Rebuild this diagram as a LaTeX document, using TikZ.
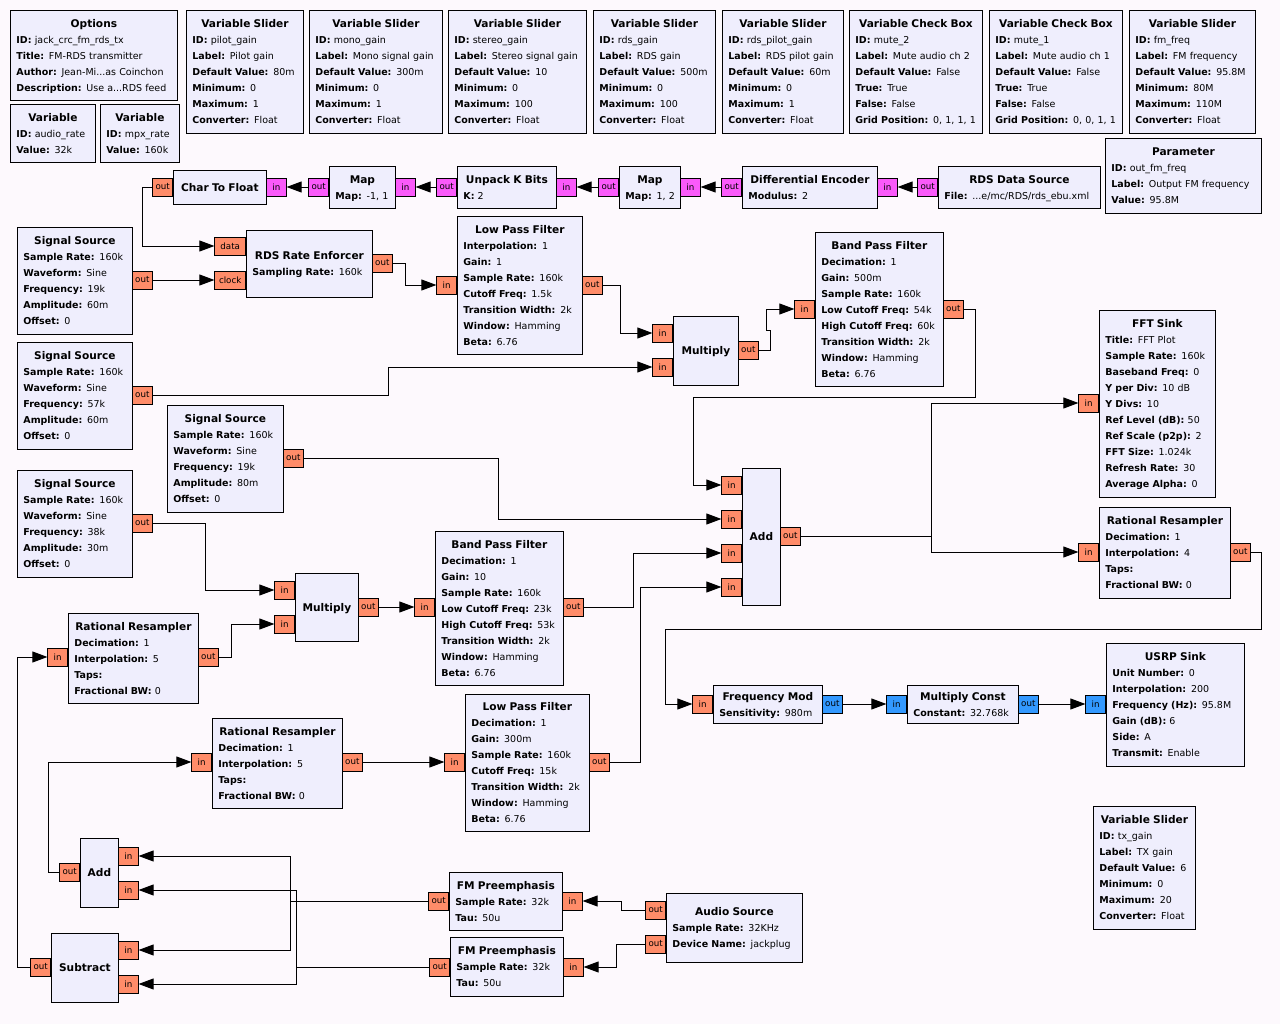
\documentclass[tikz,border=0pt]{standalone}
\usepackage{fontspec}
\setmainfont{DejaVu Sans}
\usetikzlibrary{arrows.meta}
\setlength{\parindent}{0pt}
\definecolor{bgc}{RGB}{253,249,253}
\definecolor{blockc}{RGB}{239,238,253}
\definecolor{floatc}{RGB}{255,140,105}
\definecolor{bytec}{RGB}{250,90,250}
\definecolor{cplxc}{RGB}{51,153,255}
\newcommand{\sst}{\rule[-2.3pt]{0pt}{12pt}}
\newcommand{\ttl}[1]{\hbox to\hsize{\hss\fontsize{10.6}{16}\selectfont\bfseries #1\hss}\sst}
\newcommand{\kv}[2]{\mbox{\textbf{#1:} #2}\sst}
\tikzset{
  blk/.style={draw, line width=0.8pt, fill=blockc, anchor=north west, inner xsep=6pt, inner ysep=0pt, align=left, font=\fontsize{9.5}{16}\selectfont},
  port/.style={draw, line width=0.6pt, inner xsep=1.5pt, inner ysep=0pt, minimum width=20pt, minimum height=18pt, font=\fontsize{8.7}{9}\selectfont},
  fp/.style={port, fill=floatc}, bp/.style={port, fill=bytec}, cp/.style={port, fill=cplxc},
  wire/.style={draw, line width=0.9pt, -{Triangle[length=15pt,width=11pt]}}
}
\begin{document}
\begin{tikzpicture}[x=1pt,y=-1pt]
\fill[bgc] (0,0) rectangle (1280,1024);
\useasboundingbox (0,0) rectangle (1280,1024);
% variables and options
\node[blk,text width=155pt,minimum height=90pt] (opt) at (10,10) {\ttl{Options}\\ \kv{ID}{jack\_crc\_fm\_rds\_tx}\\ \kv{Title}{FM-RDS transmitter}\\ \kv{Author}{Jean-Mi...as Coinchon}\\ \kv{Description}{Use a...RDS feed}};
\node[blk,text width=73pt,minimum height=58pt] (var1) at (10,104) {\ttl{Variable}\\ \kv{ID}{audio\_rate}\\ \kv{Value}{32k}};
\node[blk,text width=67pt,minimum height=58pt] (var2) at (100,104) {\ttl{Variable}\\ \kv{ID}{mpx\_rate}\\ \kv{Value}{160k}};
\node[blk,text width=105pt,minimum height=123pt] (vs1) at (186,10) {\ttl{Variable Slider}\\ \kv{ID}{pilot\_gain}\\ \kv{Label}{Pilot gain}\\ \kv{Default Value}{80m}\\ \kv{Minimum}{0}\\ \kv{Maximum}{1}\\ \kv{Converter}{Float}};
\node[blk,text width=121pt,minimum height=123pt] (vs2) at (309,10) {\ttl{Variable Slider}\\ \kv{ID}{mono\_gain}\\ \kv{Label}{Mono signal gain}\\ \kv{Default Value}{300m}\\ \kv{Minimum}{0}\\ \kv{Maximum}{1}\\ \kv{Converter}{Float}};
\node[blk,text width=126pt,minimum height=123pt] (vs3) at (448,10) {\ttl{Variable Slider}\\ \kv{ID}{stereo\_gain}\\ \kv{Label}{Stereo signal gain}\\ \kv{Default Value}{10}\\ \kv{Minimum}{0}\\ \kv{Maximum}{100}\\ \kv{Converter}{Float}};
\node[blk,text width=110pt,minimum height=123pt] (vs4) at (593,10) {\ttl{Variable Slider}\\ \kv{ID}{rds\_gain}\\ \kv{Label}{RDS gain}\\ \kv{Default Value}{500m}\\ \kv{Minimum}{0}\\ \kv{Maximum}{100}\\ \kv{Converter}{Float}};
\node[blk,text width=109pt,minimum height=123pt] (vs5) at (722,10) {\ttl{Variable Slider}\\ \kv{ID}{rds\_pilot\_gain}\\ \kv{Label}{RDS pilot gain}\\ \kv{Default Value}{60m}\\ \kv{Minimum}{0}\\ \kv{Maximum}{1}\\ \kv{Converter}{Float}};
\node[blk,text width=121pt,minimum height=123pt] (cb1) at (849,10) {\ttl{Variable Check Box}\\ \kv{ID}{mute\_2}\\ \kv{Label}{Mute audio ch 2}\\ \kv{Default Value}{False}\\ \kv{True}{True}\\ \kv{False}{False}\\ \kv{Grid Position}{0, 1, 1, 1}};
\node[blk,text width=121pt,minimum height=123pt] (cb2) at (989,10) {\ttl{Variable Check Box}\\ \kv{ID}{mute\_1}\\ \kv{Label}{Mute audio ch 1}\\ \kv{Default Value}{False}\\ \kv{True}{True}\\ \kv{False}{False}\\ \kv{Grid Position}{0, 0, 1, 1}};
\node[blk,text width=114pt,minimum height=123pt] (vs6) at (1129,10) {\ttl{Variable Slider}\\ \kv{ID}{fm\_freq}\\ \kv{Label}{FM frequency}\\ \kv{Default Value}{95.8M}\\ \kv{Minimum}{80M}\\ \kv{Maximum}{110M}\\ \kv{Converter}{Float}};
\node[blk,text width=144pt,minimum height=75pt] (par) at (1105,138) {\ttl{Parameter}\\ \kv{ID}{out\_fm\_freq}\\ \kv{Label}{Output FM frequency}\\ \kv{Value}{95.8M}};
\node[blk,text width=90pt,minimum height=123pt] (vs7) at (1093,806) {\ttl{Variable Slider}\\ \kv{ID}{tx\_gain}\\ \kv{Label}{TX gain}\\ \kv{Default Value}{6}\\ \kv{Minimum}{0}\\ \kv{Maximum}{20}\\ \kv{Converter}{Float}};
% RDS chain
\node[blk,text width=150pt,minimum height=42pt] (rds) at (938,166) {\ttl{RDS Data Source}\\ \kv{File}{...e/mc/RDS/rds\_ebu.xml}};
\node[blk,text width=123pt,minimum height=42pt] (denc) at (742,166) {\ttl{Differential Encoder}\\ \kv{Modulus}{2}};
\node[blk,text width=49pt,minimum height=42pt] (map2) at (619,166) {\ttl{Map}\\ \kv{Map}{1, 2}};
\node[blk,text width=87pt,minimum height=42pt] (unp) at (457,166) {\ttl{Unpack K Bits}\\ \kv{K}{2}};
\node[blk,text width=54pt,minimum height=42pt] (map1) at (329,166) {\ttl{Map}\\ \kv{Map}{-1, 1}};
\node[blk,text width=81pt,minimum height=34pt] (c2f) at (173,170) {\ttl{Char To Float}};
\node[blk,text width=114pt,minimum height=67pt] (rre) at (246,230) {\ttl{RDS Rate Enforcer}\\ \kv{Sampling Rate}{160k}};
\node[blk,text width=113pt,minimum height=138pt] (lpf1) at (457,216) {\ttl{Low Pass Filter}\\ \kv{Interpolation}{1}\\ \kv{Gain}{1}\\ \kv{Sample Rate}{160k}\\ \kv{Cutoff Freq}{1.5k}\\ \kv{Transition Width}{2k}\\ \kv{Window}{Hamming}\\ \kv{Beta}{6.76}};
\node[blk,text width=53pt,minimum height=69pt] (mul1) at (673,316) {\ttl{Multiply}};
\node[blk,text width=116pt,minimum height=154pt] (bpf1) at (815,232) {\ttl{Band Pass Filter}\\ \kv{Decimation}{1}\\ \kv{Gain}{500m}\\ \kv{Sample Rate}{160k}\\ \kv{Low Cutoff Freq}{54k}\\ \kv{High Cutoff Freq}{60k}\\ \kv{Transition Width}{2k}\\ \kv{Window}{Hamming}\\ \kv{Beta}{6.76}};
% signal sources
\node[blk,text width=103pt,minimum height=107pt] (ss1) at (17,227) {\ttl{Signal Source}\\ \kv{Sample Rate}{160k}\\ \kv{Waveform}{Sine}\\ \kv{Frequency}{19k}\\ \kv{Amplitude}{60m}\\ \kv{Offset}{0}};
\node[blk,text width=103pt,minimum height=107pt] (ss2) at (17,342) {\ttl{Signal Source}\\ \kv{Sample Rate}{160k}\\ \kv{Waveform}{Sine}\\ \kv{Frequency}{57k}\\ \kv{Amplitude}{60m}\\ \kv{Offset}{0}};
\node[blk,text width=104pt,minimum height=107pt] (ss3) at (167,405) {\ttl{Signal Source}\\ \kv{Sample Rate}{160k}\\ \kv{Waveform}{Sine}\\ \kv{Frequency}{19k}\\ \kv{Amplitude}{80m}\\ \kv{Offset}{0}};
\node[blk,text width=103pt,minimum height=107pt] (ss4) at (17,470) {\ttl{Signal Source}\\ \kv{Sample Rate}{160k}\\ \kv{Waveform}{Sine}\\ \kv{Frequency}{38k}\\ \kv{Amplitude}{30m}\\ \kv{Offset}{0}};
% mpx sum and output
\node[blk,text width=26pt,minimum height=137pt] (add1) at (742,468) {\ttl{Add}};
\node[blk,text width=104pt,minimum height=187pt] (fft) at (1099,310) {\ttl{FFT Sink}\\ \kv{Title}{FFT Plot}\\ \kv{Sample Rate}{160k}\\ \kv{Baseband Freq}{0}\\ \kv{Y per Div}{10 dB}\\ \kv{Y Divs}{10}\\ \kv{Ref Level (dB)}{50}\\ \kv{Ref Scale (p2p)}{2}\\ \kv{FFT Size}{1.024k}\\ \kv{Refresh Rate}{30}\\ \kv{Average Alpha}{0}};
\node[blk,text width=119pt,minimum height=91pt] (rr4) at (1099,507) {\ttl{Rational Resampler}\\ \kv{Decimation}{1}\\ \kv{Interpolation}{4}\\ \kv{Taps}{}\\ \kv{Fractional BW}{0}};
\node[blk,text width=97pt,minimum height=38pt] (fmod) at (713,685) {\ttl{Frequency Mod}\\ \kv{Sensitivity}{980m}};
\node[blk,text width=99pt,minimum height=38pt] (mc) at (907,685) {\ttl{Multiply Const}\\ \kv{Constant}{32.768k}};
\node[blk,text width=126pt,minimum height=123pt] (usrp) at (1106,643) {\ttl{USRP Sink}\\ \kv{Unit Number}{0}\\ \kv{Interpolation}{200}\\ \kv{Frequency (Hz)}{95.8M}\\ \kv{Gain (dB)}{6}\\ \kv{Side}{A}\\ \kv{Transmit}{Enable}};
% stereo and mono paths
\node[blk,text width=51pt,minimum height=68pt] (mul2) at (295,573) {\ttl{Multiply}};
\node[blk,text width=118pt,minimum height=90pt] (rr1) at (68,613) {\ttl{Rational Resampler}\\ \kv{Decimation}{1}\\ \kv{Interpolation}{5}\\ \kv{Taps}{}\\ \kv{Fractional BW}{0}};
\node[blk,text width=116pt,minimum height=154pt] (bpf2) at (435,531) {\ttl{Band Pass Filter}\\ \kv{Decimation}{1}\\ \kv{Gain}{10}\\ \kv{Sample Rate}{160k}\\ \kv{Low Cutoff Freq}{23k}\\ \kv{High Cutoff Freq}{53k}\\ \kv{Transition Width}{2k}\\ \kv{Window}{Hamming}\\ \kv{Beta}{6.76}};
\node[blk,text width=112pt,minimum height=137pt] (lpf2) at (465,694) {\ttl{Low Pass Filter}\\ \kv{Decimation}{1}\\ \kv{Gain}{300m}\\ \kv{Sample Rate}{160k}\\ \kv{Cutoff Freq}{15k}\\ \kv{Transition Width}{2k}\\ \kv{Window}{Hamming}\\ \kv{Beta}{6.76}};
\node[blk,text width=118pt,minimum height=90pt] (rr2) at (212,718) {\ttl{Rational Resampler}\\ \kv{Decimation}{1}\\ \kv{Interpolation}{5}\\ \kv{Taps}{}\\ \kv{Fractional BW}{0}};
% audio
\node[blk,text width=26pt,minimum height=69pt] (adds) at (80,838) {\ttl{Add}};
\node[blk,text width=55pt,minimum height=69pt] (sub) at (51,933) {\ttl{Subtract}};
\node[blk,text width=101pt,minimum height=58pt] (fmp1) at (449,872) {\ttl{FM Preemphasis}\\ \kv{Sample Rate}{32k}\\ \kv{Tau}{50u}};
\node[blk,text width=101pt,minimum height=59pt] (fmp2) at (450,937) {\ttl{FM Preemphasis}\\ \kv{Sample Rate}{32k}\\ \kv{Tau}{50u}};
\node[blk,text width=124pt,minimum height=69pt] (aud) at (666,893) {\ttl{Audio Source}\\ \kv{Sample Rate}{32KHz}\\ \kv{Device Name}{jackplug}};
% ports
\node[bp,anchor=east] (rds-out) at (938,187) {out};
\node[bp,anchor=west] (denc-in) at (877,187) {in};
\node[bp,anchor=east] (denc-out) at (742,187) {out};
\node[bp,anchor=west] (map2-in) at (680,187) {in};
\node[bp,anchor=east] (map2-out) at (619,187) {out};
\node[bp,anchor=west] (unp-in) at (556,187) {in};
\node[bp,anchor=east] (unp-out) at (457,187) {out};
\node[bp,anchor=west] (map1-in) at (395,187) {in};
\node[bp,anchor=east] (map1-out) at (329,187) {out};
\node[bp,anchor=west] (c2f-in) at (266,187) {in};
\node[fp,anchor=east] (c2f-out) at (173,187) {out};
\node[fp,anchor=west] (ss1-out) at (132,280) {out};
\node[fp,anchor=east,minimum width=31pt] (rre-data) at (246,246) {data};
\node[fp,anchor=east,minimum width=31pt] (rre-clk) at (246,280) {clock};
\node[fp,anchor=west] (rre-out) at (372,263) {out};
\node[fp,anchor=east] (lpf1-in) at (457,285) {in};
\node[fp,anchor=west] (lpf1-out) at (582,285) {out};
\node[fp,anchor=east] (mul1-in1) at (673,333) {in};
\node[fp,anchor=east] (mul1-in2) at (673,367) {in};
\node[fp,anchor=west] (mul1-out) at (738,350) {out};
\node[fp,anchor=east] (bpf1-in) at (815,309) {in};
\node[fp,anchor=west] (bpf1-out) at (943,309) {out};
\node[fp,anchor=west] (ss2-out) at (132,395) {out};
\node[fp,anchor=west] (ss3-out) at (283,458) {out};
\node[fp,anchor=west] (ss4-out) at (132,523) {out};
\node[fp,anchor=east] (add1-in1) at (742,485) {in};
\node[fp,anchor=east] (add1-in2) at (742,519) {in};
\node[fp,anchor=east] (add1-in3) at (742,553) {in};
\node[fp,anchor=east] (add1-in4) at (742,587) {in};
\node[fp,anchor=west] (add1-out) at (780,536) {out};
\node[fp,anchor=east] (fft-in) at (1099,403) {in};
\node[fp,anchor=east] (rr4-in) at (1099,552) {in};
\node[fp,anchor=west] (rr4-out) at (1230,552) {out};
\node[fp,anchor=east] (fmod-in) at (713,704) {in};
\node[cp,anchor=west] (fmod-out) at (822,704) {out};
\node[cp,anchor=east] (mc-in) at (907,704) {in};
\node[cp,anchor=west] (mc-out) at (1018,704) {out};
\node[cp,anchor=east] (usrp-in) at (1106,704) {in};
\node[fp,anchor=east] (mul2-in1) at (295,590) {in};
\node[fp,anchor=east] (mul2-in2) at (295,624) {in};
\node[fp,anchor=west] (mul2-out) at (358,607) {out};
\node[fp,anchor=east] (rr1-in) at (68,657) {in};
\node[fp,anchor=west] (rr1-out) at (198,657) {out};
\node[fp,anchor=east] (bpf2-in) at (435,607) {in};
\node[fp,anchor=west] (bpf2-out) at (563,607) {out};
\node[fp,anchor=east] (lpf2-in) at (465,762) {in};
\node[fp,anchor=west] (lpf2-out) at (589,762) {out};
\node[fp,anchor=east] (rr2-in) at (212,762) {in};
\node[fp,anchor=west] (rr2-out) at (342,762) {out};
\node[fp,anchor=east] (adds-out) at (80,872) {out};
\node[fp,anchor=west] (adds-in1) at (118,856) {in};
\node[fp,anchor=west] (adds-in2) at (118,890) {in};
\node[fp,anchor=east] (sub-out) at (51,967) {out};
\node[fp,anchor=west] (sub-in1) at (118,950) {in};
\node[fp,anchor=west] (sub-in2) at (118,984) {in};
\node[fp,anchor=east] (fmp1-out) at (449,901) {out};
\node[fp,anchor=west] (fmp1-in) at (562,901) {in};
\node[fp,anchor=east] (fmp2-out) at (450,967) {out};
\node[fp,anchor=west] (fmp2-in) at (563,967) {in};
\node[fp,anchor=east] (aud-out1) at (666,910) {out};
\node[fp,anchor=east] (aud-out2) at (666,944) {out};
% connections
\draw[wire] (rds-out.west) -- (denc-in.east);
\draw[wire] (denc-out.west) -- (map2-in.east);
\draw[wire] (map2-out.west) -- (unp-in.east);
\draw[wire] (unp-out.west) -- (map1-in.east);
\draw[wire] (map1-out.west) -- (c2f-in.east);
\draw[wire] (c2f-out.west) -- ++(-10,0) |- (rre-data.west);
\draw[wire] (ss1-out.east) -- (rre-clk.west);
\draw[wire] (rre-out.east) -- ++(13,0) |- (lpf1-in.west);
\draw[wire] (lpf1-out.east) -- ++(18,0) |- (mul1-in1.west);
\draw[wire] (ss2-out.east) -- ++(236,0) |- (mul1-in2.west);
\draw[wire] (mul1-out.east) -- ++(12,0) -- ++(0,-20) -- ++(-4,0) |- (bpf1-in.west);
\draw[wire] (bpf1-out.east) -- ++(12,0) -- ++(0,88) -- ++(-282,0) |- (add1-in1.west);
\draw[wire] (ss3-out.east) -- ++(195,0) |- (add1-in2.west);
\draw[wire] (bpf2-out.east) -- ++(50,0) |- (add1-in3.west);
\draw[wire] (lpf2-out.east) -- ++(31,0) |- (add1-in4.west);
\draw[wire] (add1-out.east) -- ++(131,0) |- (fft-in.west);
\draw[wire] (add1-out.east) -- ++(131,0) |- (rr4-in.west);
\draw[wire] (rr4-out.east) -- ++(11,0) -- ++(0,77) -- ++(-596,0) |- (fmod-in.west);
\draw[wire] (fmod-out.east) -- (mc-in.west);
\draw[wire] (mc-out.east) -- (usrp-in.west);
\draw[wire] (ss4-out.east) -- ++(53,0) |- (mul2-in1.west);
\draw[wire] (rr1-out.east) -- ++(13,0) |- (mul2-in2.west);
\draw[wire] (mul2-out.east) -- (bpf2-in.west);
\draw[wire] (rr2-out.east) -- (lpf2-in.west);
\draw[wire] (adds-out.west) -- ++(-11,0) |- (rr2-in.west);
\draw[wire] (sub-out.west) -- ++(-13,0) |- (rr1-in.west);
\draw[wire] (aud-out1.west) -- ++(-24,0) |- (fmp1-in.east);
\draw[wire] (aud-out2.west) -- ++(-29,0) |- (fmp2-in.east);
\draw[wire] (fmp1-out.west) -- ++(-138,0) |- (adds-in1.east);
\draw[wire] (fmp1-out.west) -- ++(-138,0) |- (sub-in1.east);
\draw[wire] (fmp2-out.west) -- ++(-133,0) |- (adds-in2.east);
\draw[wire] (fmp2-out.west) -- ++(-133,0) |- (sub-in2.east);
\end{tikzpicture}
\end{document}
